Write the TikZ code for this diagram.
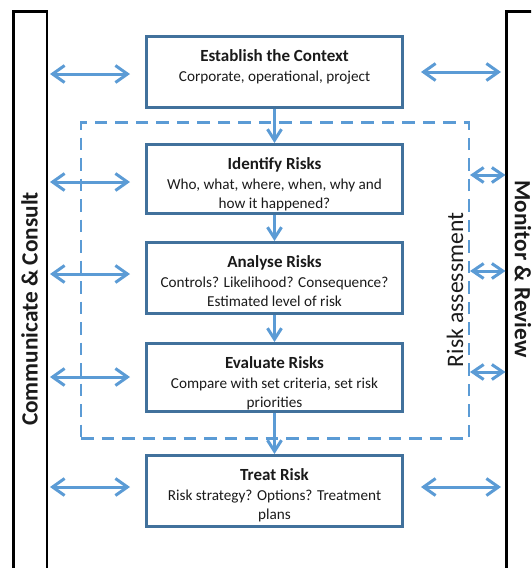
\documentclass[tikz,border=0pt]{standalone}
\usepackage{fontspec}
\setmainfont{Carlito}
\usetikzlibrary{arrows.meta}
\definecolor{boxblue}{HTML}{41719C}
\definecolor{arrblue}{HTML}{5B9BD5}
\definecolor{txtgray}{HTML}{1A1A1A}
\newcommand\bxtitle[1]{{\fontsize{17}{19.5}\selectfont\bfseries #1}}
\begin{document}
\begin{tikzpicture}[x=1pt,y=-1pt,
  box/.style={draw=boxblue, line width=3pt, minimum width=256pt, inner sep=0pt},
  boxtext/.style={anchor=north, align=center, inner sep=0pt, text=txtgray, font=\fontsize{15.2}{19.5}\selectfont},
  bar/.style={draw=black, line width=2.5pt, minimum width=33.5pt, minimum height=640pt, anchor=north, inner sep=0pt},
  sidetext/.style={font=\bfseries\fontsize{23.3}{26}\selectfont, text=txtgray, inner sep=0pt},
  ratext/.style={font=\fontsize{23.6}{26}\selectfont, text=txtgray, inner sep=0pt},
  dashbox/.style={draw=arrblue, line width=2.8pt, dash pattern=on 12.5pt off 8pt, minimum width=388pt, minimum height=316pt, inner sep=0pt},
  bigtip/.tip={Straight Barb[length=12pt,width=17pt]},
  smalltip/.tip={Straight Barb[length=11pt,width=15pt]},
  downtip/.tip={Straight Barb[length=11pt,width=14pt]},
  biarrow/.style={arrblue, line width=3pt, bigtip-bigtip},
  sbiarrow/.style={arrblue, line width=3pt, smalltip-smalltip},
  downarrow/.style={arrblue, line width=3pt, -downtip}
]
\useasboundingbox (0,0) rectangle (531,568);
\clip (0,0) rectangle (531,568);

% side bars
\node[bar] (lbar) at (30,10.3) {};
\node[bar] (rbar) at (523,10.3) {};
\node[sidetext, rotate=90] (cc) at (29.5,309) {Communicate \& Consult};
\node[sidetext, rotate=-90] (mr) at (523,269) {Monitor \& Review};

% dashed risk assessment frame
\node[dashbox] (ra) at (275,280.5) {};
\node[ratext, rotate=90] (rat) at (455,290) {Risk assessment};

% process boxes
\node[box, minimum height=71pt] (ctx) at (274.5,72) {};
\node[boxtext] (ctxt) at ([yshift=-14.5pt]ctx.north) {\bxtitle{Establish the Context}\\Corporate, operational, project};

\node[box, minimum height=69pt] (idr) at (274.5,179) {};
\node[boxtext] (idrt) at ([yshift=-14.5pt]idr.north) {\bxtitle{Identify Risks}\\Who, what, where, when, why and\\how it happened?};

\node[box, minimum height=71pt] (anr) at (274.5,278) {};
\node[boxtext] (anrt) at ([yshift=-14.5pt]anr.north) {\bxtitle{Analyse Risks}\\Controls? Likelihood? Consequence?\\Estimated level of risk};

\node[box, minimum height=68pt] (evr) at (274.5,377.5) {};
\node[boxtext] (evrt) at ([yshift=-14.5pt]evr.north) {\bxtitle{Evaluate Risks}\\Compare with set criteria, set risk\\priorities};

\node[box, minimum height=71pt] (trr) at (274.5,491) {};
\node[boxtext] (trrt) at ([yshift=-14.5pt]trr.north) {\bxtitle{Treat Risk}\\Risk strategy? Options? Treatment\\plans};

% down arrows
\draw[downarrow] (ctx.south) -- (idr.north);
\draw[downarrow] (idr.south) -- (anr.north);
\draw[downarrow] (anr.south) -- (evr.north);
\draw[downarrow] (evr.south) -- (trr.north);

% left double arrows
\coordinate (la1) at (50,74);  \coordinate (lb1) at (130,74);
\coordinate (la2) at (50,182); \coordinate (lb2) at (130,182);
\coordinate (la3) at (50,274); \coordinate (lb3) at (130,274);
\coordinate (la4) at (50,377); \coordinate (lb4) at (130,377);
\coordinate (la5) at (50,487); \coordinate (lb5) at (130,487);
\draw[biarrow] (la1) -- (lb1);
\draw[biarrow] (la2) -- (lb2);
\draw[biarrow] (la3) -- (lb3);
\draw[biarrow] (la4) -- (lb4);
\draw[biarrow] (la5) -- (lb5);

% right double arrows
\coordinate (ra1) at (421,72);  \coordinate (rb1) at (501,72);
\coordinate (ra5) at (421,487); \coordinate (rb5) at (501,487);
\draw[biarrow] (ra1) -- (rb1);
\draw[biarrow] (ra5) -- (rb5);

% small arrows from frame to monitor bar
\coordinate (sa1) at (470,175); \coordinate (sb1) at (505.5,175);
\coordinate (sa2) at (470,271); \coordinate (sb2) at (505.5,271);
\coordinate (sa3) at (470,372); \coordinate (sb3) at (505.5,372);
\draw[sbiarrow] (sa1) -- (sb1);
\draw[sbiarrow] (sa2) -- (sb2);
\draw[sbiarrow] (sa3) -- (sb3);
\end{tikzpicture}
\end{document}
